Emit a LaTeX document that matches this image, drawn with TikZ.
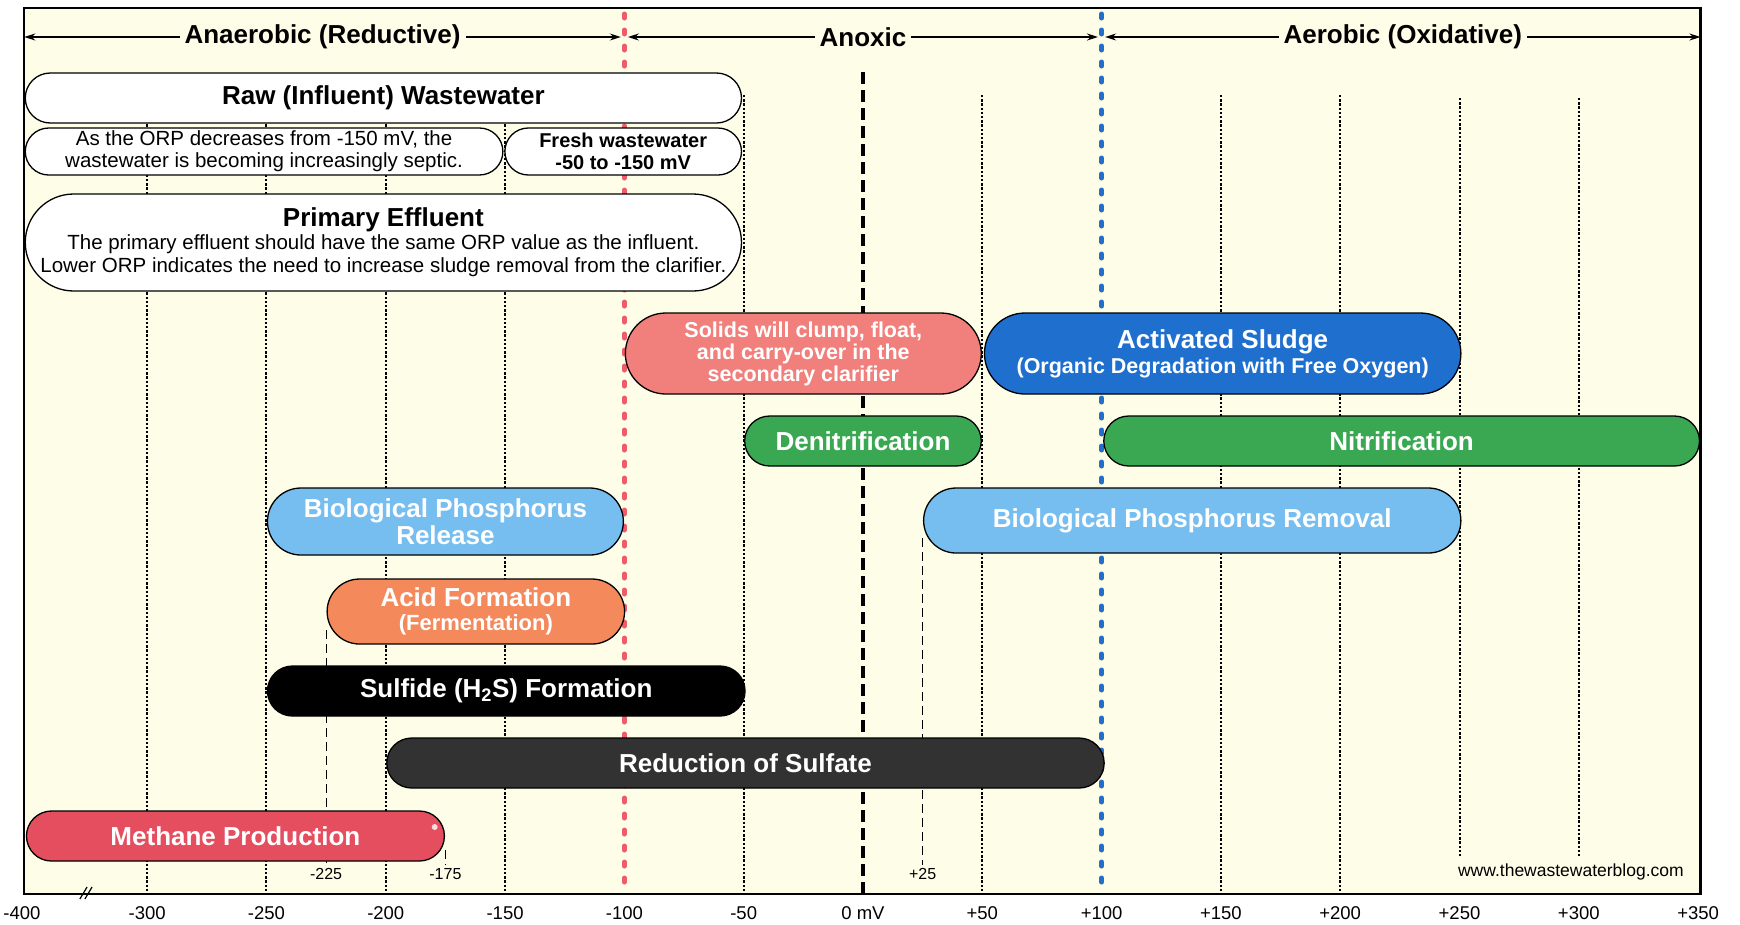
\documentclass[tikz,border=0pt]{standalone}
\usepackage{fontspec}
\setmainfont{Liberation Sans}
\usetikzlibrary{arrows.meta,shapes.misc}
\definecolor{cream}{RGB}{254,253,232}
\definecolor{salmon}{RGB}{241,128,124}
\definecolor{asblue}{RGB}{31,111,207}
\definecolor{nitgreen}{RGB}{58,168,82}
\definecolor{lightblue}{RGB}{118,189,240}
\definecolor{acidorange}{RGB}{244,138,92}
\definecolor{methred}{RGB}{228,78,95}
\definecolor{sulfgray}{RGB}{50,50,50}
\definecolor{zonered}{RGB}{238,92,104}
\definecolor{zoneblue}{RGB}{35,110,200}
\newcommand\myfs[2]{\fontsize{#1}{#2}\selectfont}
\newcommand\pillnode[7]{%
  \node[pillbox,#6,minimum width={(#3-#2)*2.386pt},minimum height={(#5-#4)*1pt}]
    (#1) at ({(#2+#3)/2},{(#4+#5)/2}) {#7};}
\begin{document}
\begin{tikzpicture}[x=2.386pt,y=-1pt,
  pillbox/.style={rounded rectangle, draw=black, line width=1.3pt, inner sep=1pt,
    align=center, text=white, font=\myfs{26}{27}\bfseries},
  whitebox/.style={fill=white, text=black},
  gridline/.style={line width=2pt, dash pattern=on 2.4pt off 1.8pt},
  zoneline/.style={line width=5pt, line cap=round, dash pattern=on 4pt off 12pt},
  hdr/.style={fill=cream, inner sep=5pt, font=\myfs{26}{28}\bfseries},
  hdrarrow/.style={line width=1.4pt, {Stealth[length=11pt,width=7pt]}-{Stealth[length=11pt,width=7pt]}},
  ticklab/.style={font=\myfs{18.5}{20}},
  smalllab/.style={font=\myfs{16}{18}},
  guide/.style={line width=1.2pt, dash pattern=on 9pt off 5pt},
]
\useasboundingbox (-361.68,0) rectangle (367.56,924);
\fill[white] (-361.68,0) rectangle (367.56,924);
\fill[cream] (-351.5,8) rectangle (351,894);

% vertical grid lines
\foreach \v in {-300,-250,-200,-150,-50,50,150,200}
  \draw[gridline] (\v,95) -- (\v,894);
\foreach \v in {250,300}
  \draw[gridline] (\v,98) -- (\v,857);
\draw[zoneline, zonered] (-100,14) -- (-100,886);
\draw[zoneline, zoneblue] (100,14) -- (100,886);
\draw[line width=4.5pt, dash pattern=on 12pt off 6pt] (0,72) -- (0,894);

% value labels and guides
\node[smalllab] (l225) at (-225,874) {-225};
\node[smalllab] (l175) at (-175,874) {-175};
\node[smalllab] (l25) at (25,874) {+25};
\coordinate (g225) at (-225,630);
\coordinate (g175) at (-175,850);
\coordinate (g25) at (25,538);
\draw[guide] (g225) -- (l225.north);
\draw[guide] (g175) -- (l175.north);
\draw[guide] (g25) -- (l25.north);

% boxes
\pillnode{raw}{-351.5}{-50.5}{73}{123}{whitebox}{Raw (Influent) Wastewater}
\pillnode{septic}{-351.5}{-150.5}{128}{175}{whitebox,font=\myfs{20.5}{22}}{As the ORP decreases from -150 mV, the\\wastewater is becoming increasingly septic.}
\pillnode{fresh}{-150.5}{-50.5}{128}{175}{whitebox,font=\myfs{20}{22}\bfseries}{Fresh wastewater\\-50 to -150 mV}
\pillnode{primary}{-351.5}{-50.5}{194}{291}{whitebox,font=\myfs{20.5}{23}}{{\myfs{26}{28}\bfseries Primary Effluent}\\The primary effluent should have the same ORP value as the influent.\\Lower ORP indicates the need to increase sludge removal from the clarifier.}
\pillnode{solids}{-100}{50}{313}{394}{fill=salmon,font=\myfs{21.5}{22}\bfseries}{Solids will clump, float,\\and carry-over in the\\secondary clarifier}
\pillnode{asludge}{50.5}{251}{313}{394}{fill=asblue,font=\myfs{21.5}{25}\bfseries}{{\myfs{26}{28}\bfseries Activated Sludge}\\(Organic Degradation with Free Oxygen)}
\pillnode{denit}{-50}{50}{416}{466}{fill=nitgreen}{Denitrification}
\pillnode{nitrif}{100.5}{351}{416}{466}{fill=nitgreen}{Nitrification}
\pillnode{bprel}{-250}{-100}{488}{555}{fill=lightblue}{Biological Phosphorus\\Release}
\pillnode{bprem}{25}{251}{488}{553}{fill=lightblue}{Biological Phosphorus Removal}
\pillnode{acid}{-225}{-99.5}{579}{644}{fill=acidorange,font=\myfs{22}{24}\bfseries}{{\myfs{26}{28}\bfseries Acid Formation}\\(Fermentation)}
\pillnode{sulfide}{-250}{-49}{666}{716}{fill=black}{Sulfide (H\textsubscript{2}S) Formation}
\pillnode{sulfate}{-200}{101.5}{738}{788}{fill=sulfgray}{Reduction of Sulfate}
\pillnode{methane}{-351}{-175}{811}{861}{fill=methred}{Methane Production}
\fill[white!80!methred] (-179.5,827) circle (3pt);

% header zones
\coordinate (hL) at (-351.5,37);
\coordinate (hA) at (-101.5,37);
\coordinate (hB) at (-98.5,37);
\coordinate (hC) at (98.5,37);
\coordinate (hD) at (101.5,37);
\coordinate (hR) at (351,37);
\draw[hdrarrow] (hL) -- node[hdr] (zan) {Anaerobic (Reductive)} (hA);
\draw[hdrarrow] (hB) -- node[hdr] (zax) {Anoxic} (hC);
\draw[hdrarrow] (hD) -- node[hdr] (zae) {Aerobic (Oxidative)} (hR);

% frame
\draw[line width=2.2pt] (-351.5,8) rectangle (351,894);

% axis break mark
\draw[line width=1.2pt] (-328.2,899) -- (-325.2,887);
\draw[line width=1.2pt] (-326.1,899) -- (-323.1,887);

% url
\node[font=\myfs{17.5}{19}] (url) at (296.7,872) {www.thewastewaterblog.com};

% tick labels
\foreach \v/\t [count=\i] in {-352.5/-400,-300/-300,-250/-250,-200/-200,-150/-150,-100/-100,-50/-50,0/0 mV,50/+50,100/+100,150/+150,200/+200,250/+250,300/+300,350/+350}
  \node[ticklab] (tick\i) at (\v,913) {\t};
\end{tikzpicture}
\end{document}
